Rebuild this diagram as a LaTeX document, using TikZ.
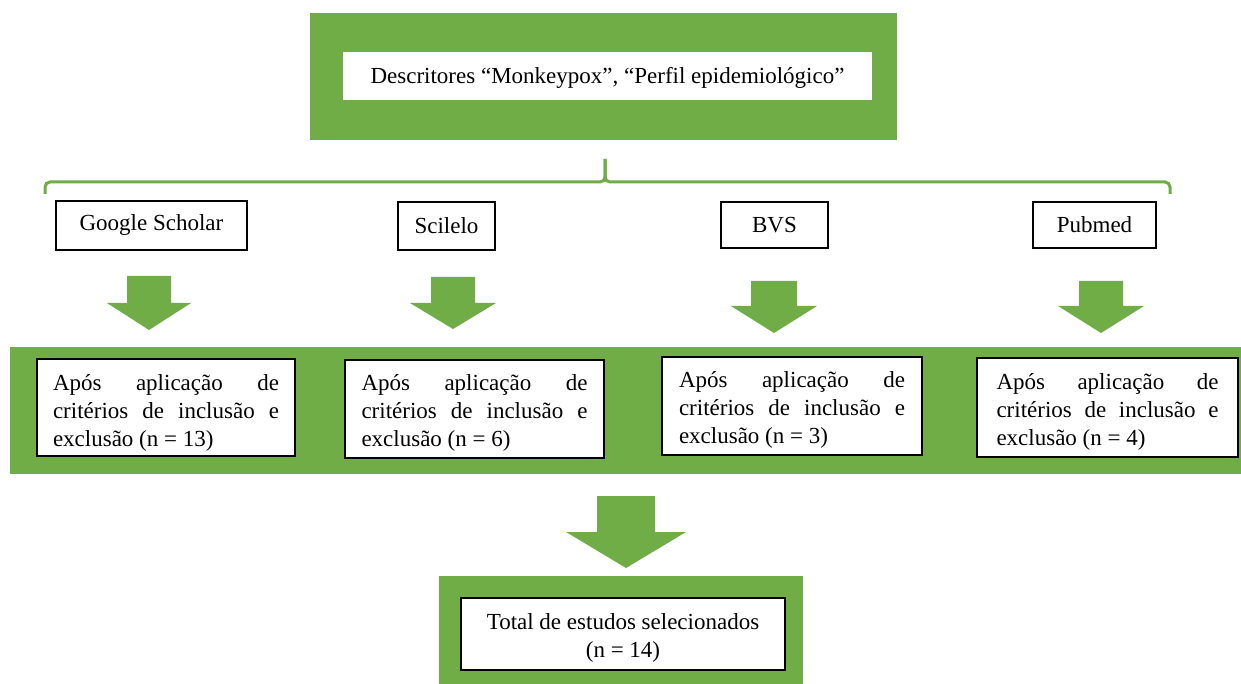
\documentclass[tikz,border=0pt]{standalone}
\usepackage{fontspec}
\setmainfont{Liberation Serif}
\definecolor{gr}{RGB}{112,173,71}
\newcommand\fs{\fontsize{23}{28}\selectfont}
\newcommand\blockarrow[6]{%
  \fill[gr] ({#1-#3},#2) -- ({#1+#3},#2) -- ({#1+#3},#4) -- ({#1+#5},#4) -- (#1,#6) -- ({#1-#5},#4) -- ({#1-#3},#4) -- cycle;}
\begin{document}
\begin{tikzpicture}[x=1pt,y=-1pt,
  gband/.style={fill=gr, draw=none, inner sep=0pt},
  wbox/.style={draw=black, line width=1.3pt, fill=white, inner sep=0pt, align=center, font=\fs},
  rtext/.style={inner sep=0pt, font=\fs, text width=#1, align=justify},
  brace/.style={draw=gr, line width=3pt, rounded corners=5pt}]
\useasboundingbox[fill=white] (0,0) rectangle (1241,684);
% top
\node[gband, minimum width=587pt, minimum height=127pt] (tg) at (603.5,76.5) {};
\node[fill=white, inner sep=0pt, minimum width=529pt, minimum height=48pt] (descbox) at (607.5,76) {};
\node[inner sep=0pt, font=\fs] (desc) at ([yshift=-2pt]descbox.center) {Descritores “Monkeypox”, “Perfil epidemiológico”};
% brace
\coordinate (bl) at (45,194);
\coordinate (br) at (1170,194);
\coordinate (bm) at (605,159);
\draw[brace] (bl) -- (45,182) -- (605,182) -- (bm);
\draw[brace] (bm) -- (605,182) -- (1170,182) -- (br);
% sources
\node[wbox, minimum width=191pt, minimum height=49pt] (gs) at (151.5,225.5) {Google Scholar};
\node[wbox, minimum width=97pt, minimum height=48pt] (sc) at (446.5,226) {Scilelo};
\node[wbox, minimum width=107pt, minimum height=46pt] (bvs) at (774.5,225) {BVS};
\node[wbox, minimum width=123pt, minimum height=46pt] (pm) at (1094.5,225) {Pubmed};
% arrows
\blockarrow{149}{276}{22}{303}{42}{330}
\blockarrow{453}{277}{22}{303}{43}{329}
\blockarrow{774}{281}{23}{306}{43}{333}
\blockarrow{1101}{281}{22}{306}{43}{333}
% band
\node[gband, minimum width=1231pt, minimum height=127pt] (band) at (625.5,410.5) {};
\node[wbox, minimum width=258pt, minimum height=97pt] (r1) at (166,407.5) {};
\node[wbox, minimum width=259pt, minimum height=98pt] (r2) at (474.5,409) {};
\node[wbox, minimum width=260pt, minimum height=98pt] (r3) at (792,406) {};
\node[wbox, minimum width=261pt, minimum height=99pt] (r4) at (1107.5,407.5) {};
\node[rtext=226pt] (r1t) at ([yshift=-5pt]r1.center) {Após aplicação de critérios de inclusão e exclusão (n = 13)};
\node[rtext=226pt] (r2t) at ([yshift=-4pt]r2.center) {Após aplicação de critérios de inclusão e exclusão (n = 6)};
\node[rtext=226pt] (r3t) at ([yshift=-4pt]r3.center) {Após aplicação de critérios de inclusão e exclusão (n = 3)};
\node[rtext=222pt] (r4t) at ([yshift=-4pt]r4.center) {Após aplicação de critérios de inclusão e exclusão (n = 4)};
% bottom
\blockarrow{626}{496}{29}{532}{60}{568}
\node[gband, minimum width=364pt, minimum height=108pt] (bg) at (621,630) {};
\node[wbox, minimum width=324pt, minimum height=72pt] (tot) at (623,634) {};
\node[inner sep=0pt, font=\fs, align=center] (tott) at ([yshift=-4pt]tot.center) {Total de estudos selecionados\\(n = 14)};
\end{tikzpicture}
\end{document}
